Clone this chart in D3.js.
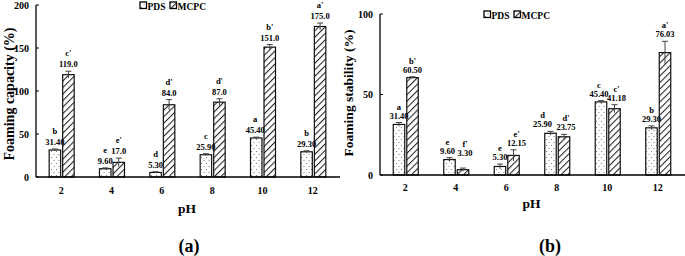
<!DOCTYPE html>
<html>
<head>
<meta charset="UTF-8">
<script src="https://d3js.org/d3.v7.min.js"></script>
<style>
  body { margin: 0; background: #fff; }
  svg text { font-family: "Liberation Serif", "Times New Roman", serif; font-weight: bold; fill: #000; }
</style>
</head>
<body>
<script>
// categories and series
const pH = ["2", "4", "6", "8", "10", "12"];
const series = ["PDS", "MCPC"];

// (a) foaming capacity
const capPDS = [31.40, 9.60, 5.30, 25.90, 45.40, 29.30];
const capMCPC = [119.0, 17.0, 84.0, 87.0, 151.0, 175.0];
const capPDSErr = [1.2, 1.0, 0.8, 1.2, 1.0, 1.2];
const capMCPCErr = [4, 5, 6, 4, 3, 4];
const capPDSLetter = ["b", "e", "d", "c", "a", "b"];
const capMCPCLetter = ["c'", "e'", "d'", "d'", "b'", "a'"];
const capPDSLabel = ["31.40", "9.60", "5.30", "25.90", "45.40", "29.30"];
const capMCPCLabel = ["119.0", "17.0", "84.0", "87.0", "151.0", "175.0"];
const capTicks = [0, 50, 100, 150, 200];

// (b) foaming stability
const stabPDS = [31.40, 9.60, 5.30, 25.90, 45.40, 29.30];
const stabMCPC = [60.50, 3.30, 12.15, 23.75, 41.18, 76.03];
const stabPDSErr = [1.2, 1.2, 1.5, 1.2, 0.8, 1.2];
const stabMCPCErr = [0.5, 1.0, 3.5, 1.5, 2.5, 7];
const stabPDSLetter = ["a", "e", "e", "d", "c", "b"];
const stabMCPCLetter = ["b'", "f'", "e'", "d'", "c'", "a'"];
const stabPDSLabel = ["31.40", "9.60", "5.30", "25.90", "45.40", "29.30"];
const stabMCPCLabel = ["60.50", "3.30", "12.15", "23.75", "41.18", "76.03"];
const stabTicks = [0, 50, 100];

const svg = d3.select("body").append("svg")
  .attr("width", 685).attr("height", 256);

// fill patterns
const defs = svg.append("defs");
const dots = defs.append("pattern").attr("id", "dots")
  .attr("patternUnits", "userSpaceOnUse").attr("width", 5).attr("height", 6);
dots.append("rect").attr("width", 5).attr("height", 6).attr("fill", "#fff");
dots.append("circle").attr("cx", 1.5).attr("cy", 1.5).attr("r", 0.5).attr("fill", "#555");
dots.append("circle").attr("cx", 4).attr("cy", 4.5).attr("r", 0.5).attr("fill", "#555");

const hatch = defs.append("pattern").attr("id", "hatch")
  .attr("patternUnits", "userSpaceOnUse").attr("width", 4.6).attr("height", 4.6)
  .attr("patternTransform", "rotate(45)");
hatch.append("rect").attr("width", 4.6).attr("height", 4.6).attr("fill", "#fff");
hatch.append("line").attr("x1", 0.5).attr("y1", 0).attr("x2", 0.5).attr("y2", 4.6)
  .attr("stroke", "#222").attr("stroke-width", 1.1);

const fills = { PDS: "url(#dots)", MCPC: "url(#hatch)" };

function drawPanel(p) {
  const g = svg.append("g");
  const x = d3.scaleBand().domain(pH).range([p.left, p.right]);
  const y = d3.scaleLinear().domain([0, p.max]).range([p.bottom, p.top]);

  const rows = [];
  pH.forEach((c, i) => {
    rows.push({ c, s: "PDS", v: p.pds[i], e: p.pdsErr[i], lt: p.pdsLetter[i], lb: p.pdsLabel[i] });
    rows.push({ c, s: "MCPC", v: p.mcpc[i], e: p.mcpcErr[i], lt: p.mcpcLetter[i], lb: p.mcpcLabel[i] });
  });
  const x1 = d3.scaleBand().domain(series).range([-12, 13]).paddingInner(0.15);
  const bx = d => x(d.c) + x.bandwidth() / 2 + x1(d.s);
  const cx = d => bx(d) + x1.bandwidth() / 2;

  g.selectAll("rect.bar").data(rows).enter().append("rect")
    .attr("class", "bar")
    .attr("x", bx)
    .attr("y", d => y(d.v))
    .attr("width", x1.bandwidth())
    .attr("height", d => y(0) - y(d.v))
    .attr("fill", d => fills[d.s])
    .attr("stroke", "#111").attr("stroke-width", 1.2);

  // error bars
  const eb = g.selectAll("g.err").data(rows).enter().append("g")
    .attr("stroke", "#444").attr("stroke-width", 1);
  eb.append("line").attr("x1", cx).attr("x2", cx)
    .attr("y1", d => y(d.v - d.e)).attr("y2", d => y(d.v + d.e));
  eb.append("line").attr("x1", d => cx(d) - 3).attr("x2", d => cx(d) + 3)
    .attr("y1", d => y(d.v + d.e)).attr("y2", d => y(d.v + d.e));

  // value labels and letters (nudged where the original nudges them)
  const shiftY = d => p.dy[d.s + d.c] || 0;
  const shiftX = d => p.dx[d.s + d.c] || 0;
  g.selectAll("text.val").data(rows).enter().append("text")
    .attr("x", d => cx(d) + shiftX(d)).attr("y", d => y(d.v + d.e) - 4 + shiftY(d))
    .attr("text-anchor", "middle").attr("font-size", 8.5)
    .text(d => d.lb);
  g.selectAll("text.let").data(rows).enter().append("text")
    .attr("x", d => cx(d) + shiftX(d)).attr("y", d => y(d.v + d.e) - 4 - p.gap + shiftY(d))
    .attr("text-anchor", "middle").attr("font-size", 8.5)
    .text(d => d.lt);

  // axes
  g.append("line").attr("x1", p.left).attr("x2", p.right + 2)
    .attr("y1", y(0)).attr("y2", y(0)).attr("stroke", "#000").attr("stroke-width", 1.3);
  g.append("line").attr("x1", p.left).attr("x2", p.left)
    .attr("y1", y(0)).attr("y2", y(p.max)).attr("stroke", "#000").attr("stroke-width", 1.3);
  g.selectAll("line.yt").data(p.ticks).enter().append("line")
    .attr("x1", p.left).attr("x2", p.left + 3)
    .attr("y1", d => y(d)).attr("y2", d => y(d)).attr("stroke", "#000");
  g.selectAll("text.yt").data(p.ticks).enter().append("text")
    .attr("x", p.left - 7).attr("y", d => y(d) + 3.5)
    .attr("text-anchor", "end").attr("font-size", 10).text(d => d);
  g.selectAll("text.xt").data(pH).enter().append("text")
    .attr("x", d => x(d) + x.bandwidth() / 2).attr("y", p.xtY)
    .attr("text-anchor", "middle").attr("font-size", 10).text(d => d);

  g.append("text").attr("x", (p.left + p.right) / 2).attr("y", p.phY)
    .attr("text-anchor", "middle").attr("font-size", 13.5).text("pH");
  g.append("text")
    .attr("transform", `translate(${p.ylX},${p.ylY}) rotate(-90)`)
    .attr("text-anchor", "middle").attr("font-size", p.ylSize).text(p.ylabel);
  g.append("text").attr("x", p.capX).attr("y", 252)
    .attr("text-anchor", "middle").attr("font-size", 18).text(p.caption);

  // legend
  const lg = g.append("g").attr("transform", `translate(${p.legX},${p.legY})`);
  series.forEach((s, i) => {
    const ox = i === 0 ? 0 : 30;
    lg.append("rect").attr("x", ox).attr("y", -4).attr("width", 6.5).attr("height", 6.5)
      .attr("fill", fills[s]).attr("stroke", "#000").attr("stroke-width", 1.3);
    lg.append("text").attr("x", ox + 7.5).attr("y", 3.5).attr("font-size", 9.5).text(s);
  });
}

drawPanel({
  left: 36, right: 338, top: 5, bottom: 177, max: 200, ticks: capTicks,
  pds: capPDS, mcpc: capMCPC, pdsErr: capPDSErr, mcpcErr: capMCPCErr,
  pdsLetter: capPDSLetter, mcpcLetter: capMCPCLetter, pdsLabel: capPDSLabel, mcpcLabel: capMCPCLabel,
  dy: {}, dx: { PDS10: -1 }, gap: 11, xtY: 194, phY: 213, ylX: 14, ylY: 94, ylSize: 14,
  ylabel: "Foaming capacity (%)", caption: "(a)", capX: 189, legX: 140, legY: 6
});

drawPanel({
  left: 380, right: 683, top: 14, bottom: 175, max: 100, ticks: stabTicks,
  pds: stabPDS, mcpc: stabMCPC, pdsErr: stabPDSErr, mcpcErr: stabMCPCErr,
  pdsLetter: stabPDSLetter, mcpcLetter: stabMCPCLetter, pdsLabel: stabPDSLabel, mcpcLabel: stabMCPCLabel,
  dy: { MCPC4: -8 }, dx: { PDS4: -2, MCPC4: 2, PDS8: -8, MCPC8: 2, PDS10: -2, MCPC10: 2, MCPC6: 3 },
  gap: 9, xtY: 191, phY: 208, ylX: 353, ylY: 93, ylSize: 13.5,
  ylabel: "Foaming stability (%)", caption: "(b)", capX: 550, legX: 484, legY: 15
});
</script>
</body>
</html>
